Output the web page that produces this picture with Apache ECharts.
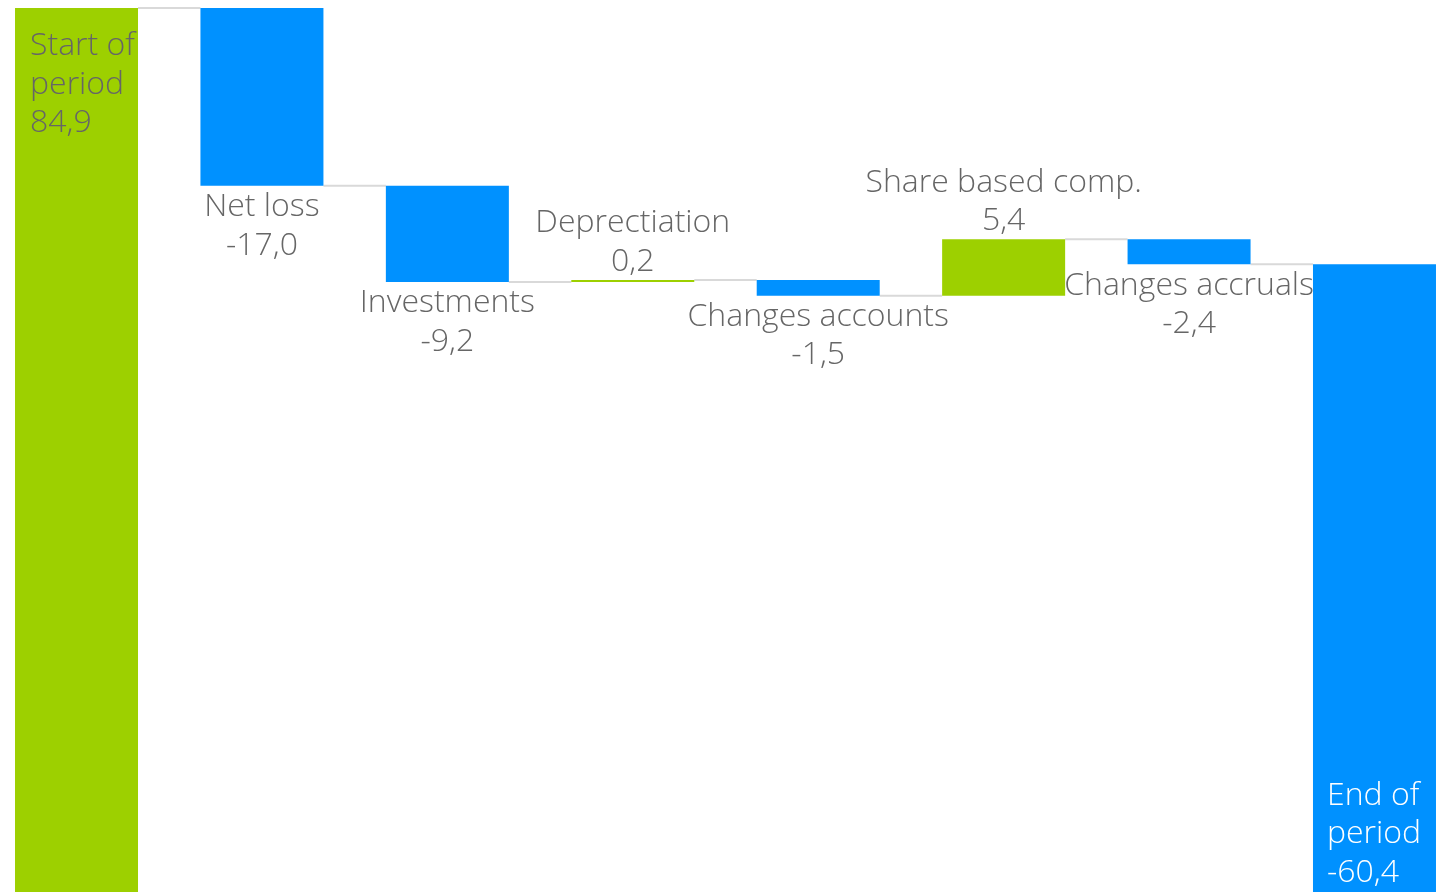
<!DOCTYPE html>
<html>
<head>
<meta charset="utf-8">
<script src="https://cdn.jsdelivr.net/npm/echarts@6/dist/echarts.min.js"></script>
<style>
html,body{margin:0;padding:0;background:#fff;}
#chart{width:1443px;height:892px;}
</style>
</head>
<body>
<div id="chart"></div>
<script>
// ---- data ----
var categories = ['Start of\nperiod', 'Net loss', 'Investments', 'Deprectiation', 'Changes accounts', 'Share based comp.', 'Changes accruals', 'End of\nperiod'];
var values = [84.9, -17.0, -9.2, 0.2, -1.5, 5.4, -2.4, -60.4];
var kinds = ['total', 'delta', 'delta', 'delta', 'delta', 'delta', 'delta', 'total'];

// ---- style ----
var GREEN = '#9dd000', BLUE = '#0091ff', TEXT = '#666666', CONNECTOR = '#d9d9d9';
var BAR_W = 123;
var FONT = 'Open Sans';

function fmt(v) { return v.toFixed(1).replace('.', ','); }

// build waterfall stacks from values
var base = [], body = [], levels = [];
var running = 0;
for (var i = 0; i < values.length; i++) {
  var v = values[i];
  var lab = {
    show: true,
    formatter: categories[i] + '\n' + fmt(v),
    fontFamily: FONT, fontWeight: 300, fontSize: 32, lineHeight: 38.5,
    color: TEXT, distance: 0
  };
  if (kinds[i] === 'total') {
    var total = (i === 0) ? v : running;
    if (i === 0) running = v;
    base.push(0);
    body.push({ value: Math.abs(total), itemStyle: { color: i === 0 ? GREEN : BLUE }, label: lab });
    if (i === 0) { lab.position = 'insideTopLeft'; lab.offset = [15, 19]; lab.align = 'left'; }
    else { lab.position = 'insideBottomLeft'; lab.offset = [14, -4]; lab.color = '#ffffff'; lab.align = 'left'; }
  } else {
    var prev = running;
    running = +(running + v).toFixed(4);
    base.push(Math.min(prev, running));
    body.push({ value: Math.abs(v), itemStyle: { color: v >= 0 ? GREEN : BLUE }, label: lab });
    lab.position = v >= 0 ? 'top' : 'bottom';
    lab.distance = v >= 0 ? -1 : 2;
  }
  levels.push(i === 0 ? values[0] : running);
}
var connectorData = [];
for (var j = 0; j < categories.length - 1; j++) connectorData.push([j, levels[j]]);

var chart = echarts.init(document.getElementById('chart'));
chart.setOption({
  animation: false,
  backgroundColor: '#ffffff',
  grid: { left: -16.2, width: 1483.4, top: 8, bottom: -4, containLabel: false, outerBoundsMode: 'none' },
  xAxis: { type: 'category', data: categories, show: false },
  yAxis: { type: 'value', min: 0, max: 84.9, show: false },
  series: [
    {
      type: 'custom', z: 1,
      data: connectorData,
      encode: { x: 0, y: 1 },
      renderItem: function (params, api) {
        var idx = api.value(0), lvl = api.value(1);
        var p1 = api.coord([idx, lvl]);
        var p2 = api.coord([idx + 1, lvl]);
        return {
          type: 'line',
          shape: { x1: p1[0] + BAR_W / 2, y1: p1[1], x2: p2[0] - BAR_W / 2, y2: p2[1] },
          style: { stroke: CONNECTOR, lineWidth: 2 }
        };
      }
    },
    {
      type: 'bar', stack: 'w', barWidth: BAR_W, silent: true,
      itemStyle: { color: 'transparent' },
      data: base
    },
    {
      type: 'bar', stack: 'w', barWidth: BAR_W, z: 3,
      data: body
    }
  ]
});
</script>
</body>
</html>
